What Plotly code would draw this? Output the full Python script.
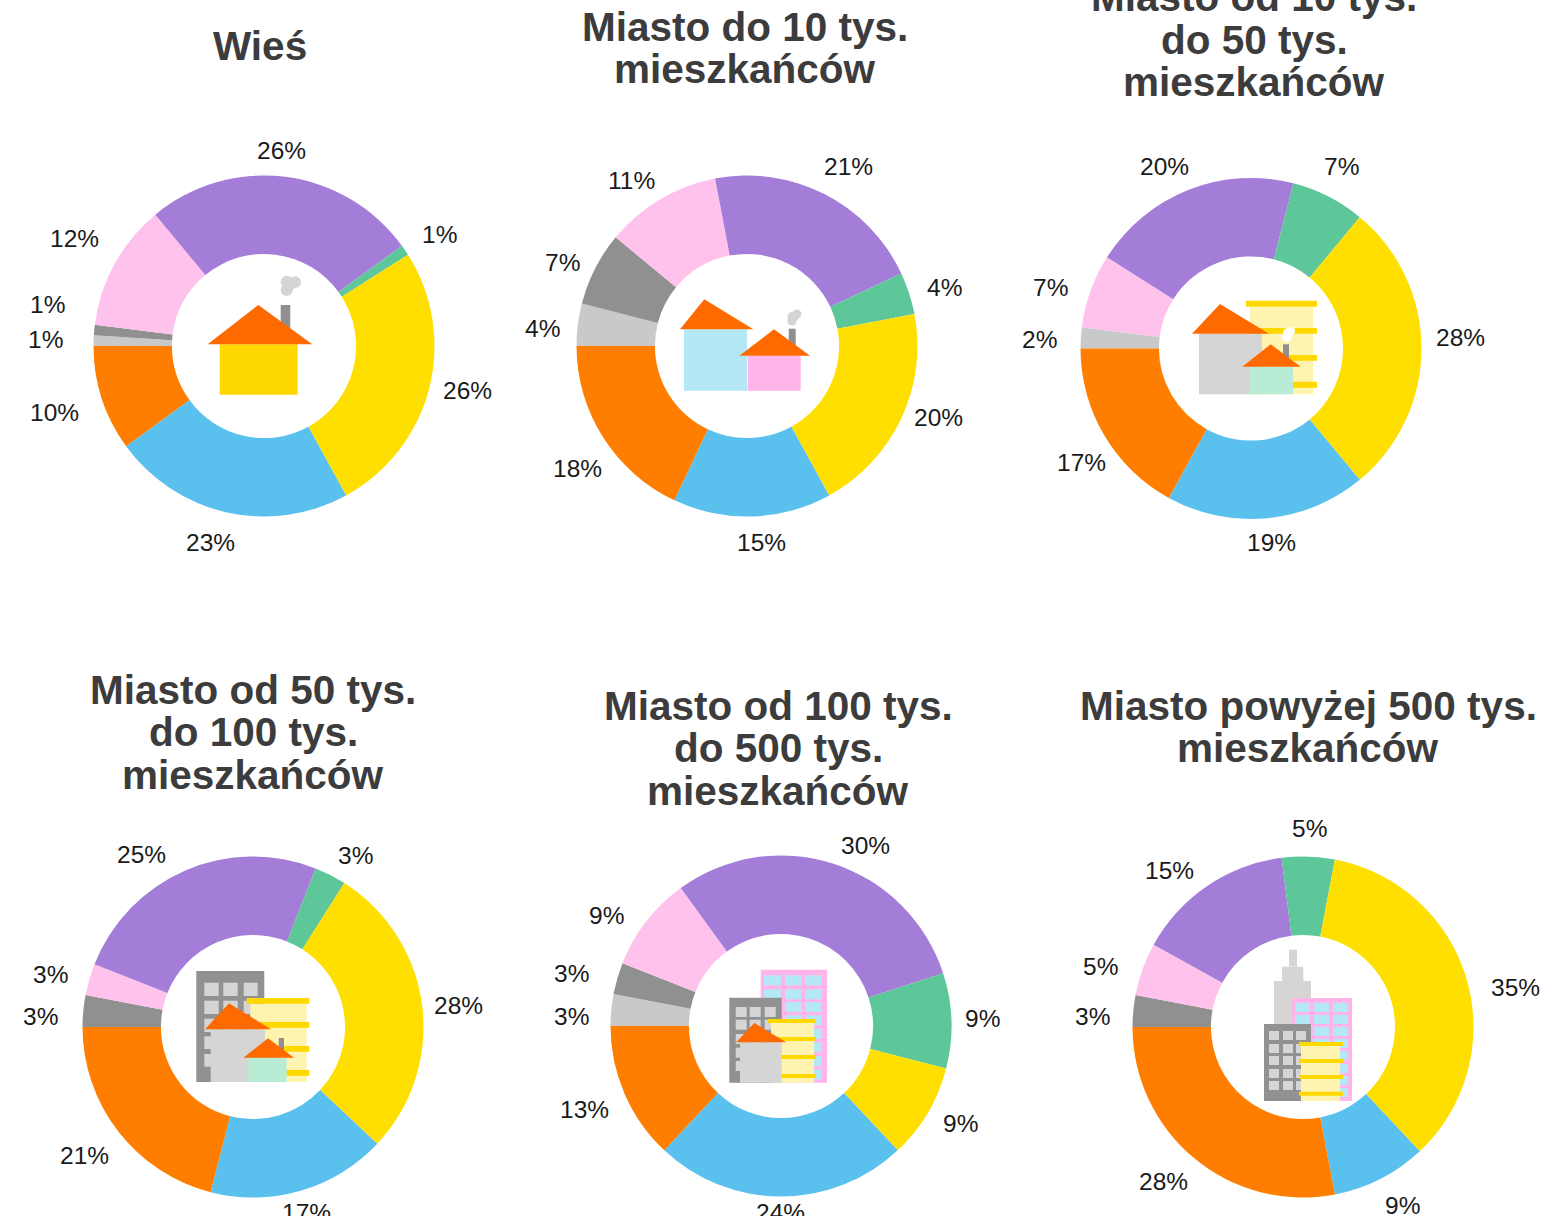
import plotly.graph_objects as go

W, H = 1558, 1216

# ---------- data ----------
categories = ["a", "b", "c", "d", "e", "f", "g", "h"]
wies = [1, 1, 12, 26, 1, 26, 23, 10]
miasto_do_10 = [4, 7, 11, 21, 4, 20, 15, 18]
miasto_10_50 = [2, 0, 7, 20, 7, 28, 19, 17]
miasto_50_100 = [0, 3, 3, 25, 3, 28, 17, 21]
miasto_100_500 = [3, 3, 9, 30, 9, 9, 24, 13]
miasto_500 = [0, 3, 5, 15, 5, 35, 9, 28]

titles = [
    ["Wieś"],
    ["Miasto do 10 tys.", "mieszkańców"],
    ["Miasto od 10 tys.", "do 50 tys.", "mieszkańców"],
    ["Miasto od 50 tys.", "do 100 tys.", "mieszkańców"],
    ["Miasto od 100 tys.", "do 500 tys.", "mieszkańców"],
    ["Miasto powyżej 500 tys.", "mieszkańców"],
]
series = [wies, miasto_do_10, miasto_10_50, miasto_50_100, miasto_100_500, miasto_500]

# ---------- layout / style (pixels) ----------
COLORS = ["#C9C9C9", "#909090", "#FFC2EC", "#A47DD9", "#5EC79A", "#FFDF00", "#5AC0ED", "#FF7E00"]
CENTERS = [(264, 346), (747, 346), (1251, 348.5), (253, 1027), (781, 1026), (1303, 1027)]
RADIUS = 170.5
HOLE = 0.54
TITLE_POS = [
    (260, [46]), (745, [27, 69]), (1254, [-3, 40, 82]),
    (253, [690, 732, 775]), (778, [706, 748, 791]), (1308, [706, 748]),
]
LABEL_POS = [
    [(45, 340), (47, 304), (74, 238), (281, 151), (439, 234), (467, 390), (210, 542), (54, 412)],
    [(542, 329), (562, 262), (631, 180), (848, 166), (944, 287), (939, 417), (761, 542), (577, 468)],
    [(1039, 340), None, (1050, 287), (1164, 166), (1341, 166), (1460, 337), (1271, 542), (1081, 463)],
    [None, (40, 1016), (50, 974), (141, 854), (355, 855), (458, 1005), (306, 1212), (84, 1155)],
    [(571, 1016), (571, 973), (606, 915), (865, 845), (982, 1019), (960, 1123), (780, 1212), (584, 1109)],
    [None, (1092, 1016), (1100, 966), (1169, 870), (1309, 829), (1515, 987), (1402, 1205), (1163, 1181)],
]

ROOF, GREY, LIGHT = "#FF6A00", "#8F8F8F", "#D5D5D5"
YEL, PALE, MINT = "#FFD800", "#FFF3B0", "#B8ECD5"
PINK, SKY = "#FFB5E8", "#B5E8F7"

fx = lambda x: x / W
fy = lambda y: 1 - y / H
shapes = []


def rect(x0, y0, x1, y1, c):
    shapes.append(dict(type="rect", xref="paper", yref="paper", x0=fx(x0), x1=fx(x1),
                       y0=fy(y0), y1=fy(y1), fillcolor=c, line=dict(width=0)))


def circle(x, y, r, c):
    shapes.append(dict(type="circle", xref="paper", yref="paper", x0=fx(x - r), x1=fx(x + r),
                       y0=fy(y - r), y1=fy(y + r), fillcolor=c, line=dict(width=0)))


def tri(a, b, c, col=ROOF):
    path = "M {} {} L {} {} L {} {} Z".format(fx(a[0]), fy(a[1]), fx(b[0]), fy(b[1]), fx(c[0]), fy(c[1]))
    shapes.append(dict(type="path", xref="paper", yref="paper", path=path, fillcolor=col, line=dict(width=0)))


def grid(cols, rows, c):
    for x0, x1 in cols:
        for y0, y1 in rows:
            rect(x0, y0, x1, y1, c)


# icon 1
for p in [(286.7, 281.7, 6), (295, 282.3, 6), (286.7, 290, 6), (288.5, 286, 6)]:
    circle(*p, LIGHT)
rect(280.7, 305, 290.3, 330, GREY)
rect(219.7, 344.3, 297.7, 394.7, YEL)
tri((258.3, 305), (207.7, 344.3), (312.3, 344.3))

# icon 2
for p in [(793, 317, 5.5), (797, 314, 4.5), (792, 321, 4.5)]:
    circle(*p, LIGHT)
rect(788.7, 328.7, 795.7, 347, GREY)
rect(684, 329.3, 747, 390.7, SKY)
tri((704.3, 299.3), (680, 329.3), (753.3, 329.3))
rect(747.7, 355.7, 800.7, 390.7, PINK)
tri((774, 329.3), (739.3, 355.7), (810, 355.7))

# icon 3
rect(1250, 306.7, 1313, 394.3, PALE)
for y0, y1 in [(300.7, 306.7), (328, 333.7), (355, 360.7), (381.7, 387.7)]:
    rect(1246, y0, 1317, y1, YEL)
for p in [(1288, 333, 5), (1291, 331, 4), (1287, 337, 5)]:
    circle(*p, "#FFFFFF")
rect(1199, 333.7, 1262, 394.3, LIGHT)
tri((1220, 304), (1192, 333.7), (1269, 333.7))
rect(1283, 344.3, 1289, 358.3, GREY)
rect(1249, 366.7, 1293, 394.3, MINT)
tri((1270.7, 344.3), (1242.3, 366.7), (1300.7, 366.7))

# icon 4
rect(196.3, 971, 264.3, 1082, "#919191")
grid([(204.3, 218.7), (223.3, 237.7), (243.7, 257.7)],
     [(982.7, 996), (1000.7, 1014), (1018.7, 1032), (1036.3, 1049), (1054, 1066.7)], LIGHT)
rect(250.3, 1003.7, 306.7, 1082, PALE)
for y0, y1 in [(998, 1003.7), (1022, 1027.7), (1046, 1051.7), (1070, 1075.7)]:
    rect(246.7, y0, 309.3, y1, YEL)
rect(210.7, 1029.3, 265, 1082, LIGHT)
tri((229, 1003.3), (205, 1029.3), (271, 1029.3))
rect(278.7, 1038, 284, 1050, GREY)
rect(248.3, 1057.7, 286.7, 1082, MINT)
tri((268, 1038.3), (243.3, 1057.7), (294, 1057.7))

# icon 5
rect(760.7, 969.7, 827, 1082.7, PINK)
grid([(764, 781), (785, 801.7), (805, 821.7)],
     [(975.3, 985.3), (989.3, 999.3), (1002, 1012), (1015.3, 1025.3),
      (1029, 1039), (1042.3, 1052.3), (1056, 1066), (1069.3, 1079.3)], SKY)
rect(729.3, 997.7, 781.7, 1082.7, "#919191")
grid([(735.7, 746.7), (749.7, 760.7), (764.7, 775.7)],
     [(1007, 1017), (1019.7, 1029.7), (1034, 1044), (1047.7, 1057.7), (1061, 1071)], LIGHT)
rect(771, 1023, 814, 1082.7, PALE)
for y0, y1 in [(1019, 1023), (1037, 1041), (1055, 1059), (1074, 1078)]:
    rect(768, y0, 815.7, y1, YEL)
rect(740, 1042.3, 781.7, 1082.7, LIGHT)
tri((754.3, 1023), (736.3, 1042.3), (786.3, 1042.3))

# icon 6
rect(1289, 949.7, 1297, 966.7, LIGHT)
rect(1282, 966.7, 1303.3, 981, LIGHT)
rect(1274, 981, 1311, 1025, LIGHT)
rect(1292, 998, 1352, 1101, PINK)
grid([(1295, 1310), (1314, 1329), (1333, 1348)],
     [(1003, 1012), (1015, 1024), (1027, 1036), (1039, 1048),
      (1051, 1060), (1064, 1073), (1076, 1085), (1088, 1097)], SKY)
rect(1264, 1024, 1311, 1101, "#919191")
grid([(1269, 1279), (1283, 1293), (1296, 1306)],
     [(1031, 1040), (1044, 1053), (1056, 1065), (1069, 1078), (1081, 1090)], LIGHT)
rect(1301, 1046, 1340, 1101, PALE)
for y0, y1 in [(1042, 1046), (1059, 1063), (1075, 1079), (1091.7, 1095.7)]:
    rect(1299, y0, 1343, y1, YEL)

# ---------- figure ----------
fig = go.Figure()
annotations = []
for vals, (cx, cy), title_lines, (tx, tys), label_pos in zip(series, CENTERS, titles, TITLE_POS, LABEL_POS):
    fig.add_trace(go.Pie(
        labels=categories, values=vals, sort=False, direction="clockwise", rotation=270,
        hole=HOLE, textinfo="none", showlegend=False,
        marker=dict(colors=COLORS, line=dict(width=0)),
        domain=dict(x=[fx(cx - RADIUS), fx(cx + RADIUS)], y=[fy(cy + RADIUS), fy(cy - RADIUS)]),
    ))
    for line, ty in zip(title_lines, tys):
        annotations.append(dict(text="<b>%s</b>" % line, x=fx(tx), y=fy(ty), xref="paper", yref="paper",
                                xanchor="center", yanchor="middle", showarrow=False,
                                font=dict(family="Liberation Sans", size=40.5, color="#3C3C3C")))
    for v, pos in zip(vals, label_pos):
        if pos is None:
            continue
        annotations.append(dict(text="%d%%" % v, x=fx(pos[0]), y=fy(pos[1]), xref="paper", yref="paper",
                                xanchor="center", yanchor="middle", showarrow=False,
                                font=dict(family="Liberation Sans", size=24.5, color="#1A1A1A")))

fig.update_layout(width=W, height=H, margin=dict(l=0, r=0, t=0, b=0),
                  paper_bgcolor="#FFFFFF", shapes=shapes, annotations=annotations)
fig.write_html("out.html", config=dict(displayModeBar=False),
               post_script="document.body.style.margin='0';document.body.style.overflow='hidden';")
